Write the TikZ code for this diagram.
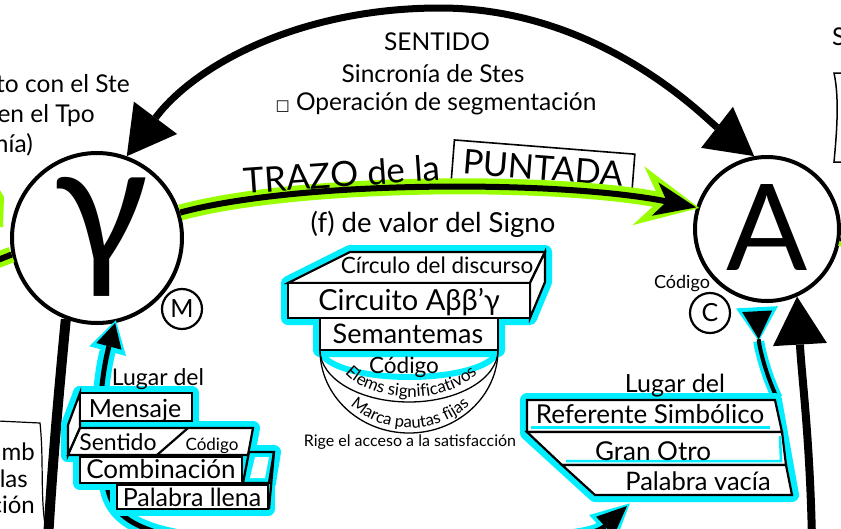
\documentclass[tikz,border=0pt]{standalone}
\usepackage{fontspec}
\setmainfont{Lato}
\newfontfamily\symfont{DejaVu Sans}
\usetikzlibrary{arrows.meta,decorations.text}
\definecolor{lime}{RGB}{153,255,0}
\definecolor{cyn}{RGB}{0,238,255}
\newcommand\fsz[1]{\fontsize{#1}{#1}\selectfont}
\begin{document}
\begin{tikzpicture}[x=1pt,y=-1pt,
  lbl/.style={inner sep=0pt, anchor=base},
  bigring/.style={circle, draw, line width=4pt, fill=white, inner sep=0pt},
  smallring/.style={circle, draw, line width=2.2pt, fill=white, inner sep=0pt, minimum size=40pt},
  thickarc/.style={line width=7pt},
  halo/.style={draw=cyn, fill=cyn, line width=14pt, line join=round},
  boxw/.style={draw=black, fill=white, line width=2.2pt, line join=miter},
  cynline/.style={cyn, line width=16pt},
  blkline/.style={black, line width=5pt},
  grnline/.style={lime, line width=16pt},
  grnblk/.style={black, line width=6pt},
  thinarc/.style={black, line width=1.3pt},
]
\useasboundingbox (0,0) rectangle (841,528);
\clip (0,0) rectangle (841,528);

% ---------- texts at top ----------
\node[lbl, font=\fsz{24.5}] (t1) at (437,50) {SENTIDO};
\node[lbl, font=\fsz{24.5}] (t2) at (433,82) {Sincronía de Stes};
\node[lbl, font=\fsz{24.5}] (t3) at (436,110) {{\symfont\fsz{15}□} Operación de segmentación};
\node[lbl, anchor=base east, font=\fsz{24.5}] (l1) at (130,92) {to con el Ste};
\node[lbl, anchor=base east, font=\fsz{24.5}] (l2) at (95,122) {en el Tpo};
\node[lbl, anchor=base east, font=\fsz{24.5}] (l3) at (33,152) {nía)};
\node[lbl, anchor=base west, font=\fsz{24.5}] (s1) at (832,45) {S};
\draw[line width=1.5pt] (841,73) -- (834,73) .. controls (840,100) and (836,140) .. (834,162) -- (841,162);

% ---------- circles ----------
\node[bigring, minimum size=170pt] (gam) at (97,238) {};
\node[lbl, font=\fsz{175}] (gamtxt) at (101,266) {γ};
\node[bigring, minimum size=144pt] (A) at (767,229) {};
\node[lbl, font=\fsz{120}] (Atxt) at (767,270) {A};
\node[smallring] (M) at (182,309) {\fsz{25}M};
\node[smallring] (C) at (710,313) {\fsz{25}C};
\node[lbl, font=\fsz{18}] (cod1) at (682,288) {Código};

% ---------- top arc ----------
\draw[thickarc, {Triangle[length=48pt,width=54pt,line width=0pt]}-{Triangle[length=47pt,width=52pt,line width=0pt]}]
  (gam.70) .. controls (195,65) and (300,8) .. (440,8) .. controls (600,8) and (705,118) .. (A.100);

% ---------- green TRAZO line ----------
\coordinate (gL) at (-10,263);
\coordinate (gR) at (850,241);
\fill[lime] (0,190) -- (4,197) -- (3,227) -- (0,227) -- cycle;
\node[draw, line width=1.6pt, rotate=-4.5, minimum width=181pt, minimum height=42pt, inner sep=0pt, font=\fsz{34}] (punt) at (543,168) {PUNTADA};
\draw[grnline, -{Stealth[length=62pt,width=60pt,inset=22pt,line width=0pt]}, shorten >=-3pt]
  (gam.17) .. controls (300,180) and (560,180) .. (A.163);
\draw[grnblk, -{Stealth[length=42pt,width=34pt,inset=12pt,line width=0pt]}]
  (gam.17) .. controls (300,180) and (560,180) .. (A.163);
\draw[grnline] (gL) -- (gam.191);
\draw[grnblk] (gL) -- (gam.191);
\draw[grnline] (A.-7) -- (gR);
\draw[grnblk] (A.-7) -- (gR);
\node[lbl, anchor=base east, rotate=4, font=\fsz{35}] (trazo) at (441,180) {TRAZO de la};
\node[lbl, font=\fsz{27.5}] (fval) at (433,232) {(f) de valor del Signo};

% ---------- big black side lines ----------
\coordinate (lb) at (48,540);
\draw[line width=10pt] (gam.249) .. controls (58,400) and (52,470) .. (lb);
\coordinate (rb) at (812,540);
\draw[line width=8pt, -{Triangle[length=48pt,width=54pt,line width=0pt]}]
  (rb) .. controls (810,440) and (802,380) .. (A.-66);

% ---------- cyan connectors ----------
\coordinate (rsb) at (627,506);
\draw[cynline, {Triangle[length=32pt,width=38pt,line width=0pt]}-{Triangle[length=38pt,width=38pt,line width=0pt]}, shorten <=-3pt, shorten >=-4pt]
  (gam.-78) .. controls (100,380) and (95,440) .. (108,490) .. controls (118,535) and (180,546) .. (330,546) .. controls (500,546) and (590,540) .. (rsb);
\draw[blkline, {Triangle[length=24pt,width=26pt,line width=0pt]}-{Triangle[length=30pt,width=26pt,line width=0pt]}]
  (gam.-78) .. controls (100,380) and (95,440) .. (108,490) .. controls (118,535) and (180,546) .. (330,546) .. controls (500,546) and (590,540) .. (rsb);
\coordinate (rst) at (777,398);
\draw[cynline, line width=11pt, {Triangle[reversed,length=34pt,width=42pt,line width=0pt]}-, shorten <=5pt]
  (A.-98) .. controls (759,345) and (764,370) .. (rst);
\draw[blkline, line width=4pt, {Triangle[reversed,length=28pt,width=30pt,line width=0pt]}-, shorten <=9pt]
  (A.-98) .. controls (759,345) and (764,370) .. (rst);

% ---------- central stack ----------
\path[halo] (288,283) -- (350,252) -- (545,252) -- (545,282) -- (530,318) -- (498,318) -- (498,350) -- (320,350) -- (320,318) -- (288,318) -- cycle;
\draw[cyn, line width=6pt] (321,350) .. controls (321,364.9) and (360.4,377) .. (409,377) .. controls (457.6,377) and (497,364.9) .. (497,350);
\draw[thinarc] (320,350) .. controls (320,378.7) and (359.8,402) .. (409,402) .. controls (458.2,402) and (498,378.7) .. (498,350);
\draw[thinarc] (320,350) .. controls (320,395.8) and (359.8,433) .. (409,433) .. controls (458.2,433) and (498,395.8) .. (498,350);
\draw[boxw] (288,283) -- (350,252) -- (545,252) -- (530,283) -- cycle;
\draw[boxw] (530,283) -- (545,252) -- (545,282) -- (530,318) -- cycle;
\draw[boxw] (288,283) rectangle (530,318);
\draw[boxw] (320,318) rectangle (498,350);
\node[lbl, font=\fsz{22.5}] (circ) at (437,273) {Círculo del discurso};
\node[lbl, font=\fsz{29}] (circu) at (409,310) {Circuito Aββ’γ};
\node[lbl, font=\fsz{27}] (sem) at (408,343) {Semantemas};
\node[lbl, font=\fsz{22.5}] (cod2) at (404,373) {Código};
\path[decorate, decoration={text along path, text={|\fsz{17}|Elems significativos}, text align=center}]
  (335,350) .. controls (335,376) and (369,397) .. (411,397) .. controls (453,397) and (487,376) .. (487,350);
\path[decorate, decoration={text along path, text={|\fsz{16.5}|Marca pautas fijas}, text align=center}]
  (326,350) .. controls (326,393.1) and (363.6,428) .. (410,428) .. controls (456.4,428) and (494,393.1) .. (494,350);
\node[lbl, font=\fsz{16}] (rige) at (410,446) {Rige el acceso a la satisfacción};

% ---------- left stack ----------
\path[halo] (80,393) rectangle (192,421);
\path[halo] (80,393) -- (68,425) -- (68,455) -- (80,428) -- cycle;
\path[halo] (80,428) -- (253,428) -- (248,455) -- (68,455) -- cycle;
\path[halo] (80,457) rectangle (242,483);
\path[halo] (249,452) -- (274,452) -- (269,483) -- (243,483) -- cycle;
\path[halo] (117,485) rectangle (268,509);
\draw[boxw] (80,393) -- (68,425) -- (68,455) -- (80,428) -- cycle;
\draw[boxw] (80,393) rectangle (192,421);
\draw[boxw] (80,428) -- (253,428) -- (248,455) -- (68,455) -- cycle;
\draw[black, line width=2.2pt] (188,428) -- (157,455);
\draw[boxw, fill=cyn] (249,452) -- (274,452) -- (269,483) -- (243,483) -- cycle;
\fill[white] (255,457) -- (269,457) -- (265,478) -- (250,478) -- cycle;
\draw[boxw] (80,457) rectangle (242,483);
\draw[boxw] (117,485) rectangle (268,509);
\draw[black, line width=2.2pt] (274,452) -- (269,509);
\node[lbl, font=\fsz{23}] (lug1) at (158,385) {Lugar del};
\node[lbl, font=\fsz{25}] (mens) at (135,417) {Mensaje};
\node[lbl, font=\fsz{23}] (sent) at (118,450) {Sentido};
\node[lbl, font=\fsz{17}] (cod3) at (212,450) {Código};
\node[lbl, font=\fsz{26}] (comb) at (161,478) {Combinación};
\node[lbl, font=\fsz{25}] (pll) at (192,506) {Palabra llena};

% ---------- right stack ----------
\path[halo] (527,400) -- (775,400) -- (792,495) -- (595,495) -- (527,433) -- cycle;
\draw[boxw] (527,400) -- (775,400) -- (782,432) -- (527,432) -- cycle;
\draw[boxw] (527,432) -- (782,432) -- (786,465) -- (562,465) -- cycle;
\draw[boxw] (562,465) -- (786,465) -- (792,495) -- (595,495) -- cycle;
\draw[cyn, line width=3pt] (531,427) -- (770,427);
\draw[cyn, line width=2.5pt] (566,461) -- (781,461) -- (780,436);
\node[lbl, font=\fsz{25}] (lug2) at (675,392) {Lugar del};
\node[lbl, font=\fsz{26}] (ref) at (650,423) {Referente Simbólico};
\node[lbl, font=\fsz{26}] (gran) at (653,460) {Gran Otro};
\node[lbl, font=\fsz{25.5}] (pva) at (698,490) {Palabra vacía};

% ---------- bottom-left partial box ----------
\draw[line width=1.2pt] (-2,421) -- (40,423) .. controls (44,460) and (40,500) .. (46,530);
\node[lbl, anchor=base east, font=\fsz{24}] (b1) at (35,460) {mb};
\node[lbl, anchor=base east, font=\fsz{24}] (b2) at (28,487) {glas};
\node[lbl, anchor=base east, font=\fsz{24}] (b3) at (35,513) {ción};
\end{tikzpicture}
\end{document}
